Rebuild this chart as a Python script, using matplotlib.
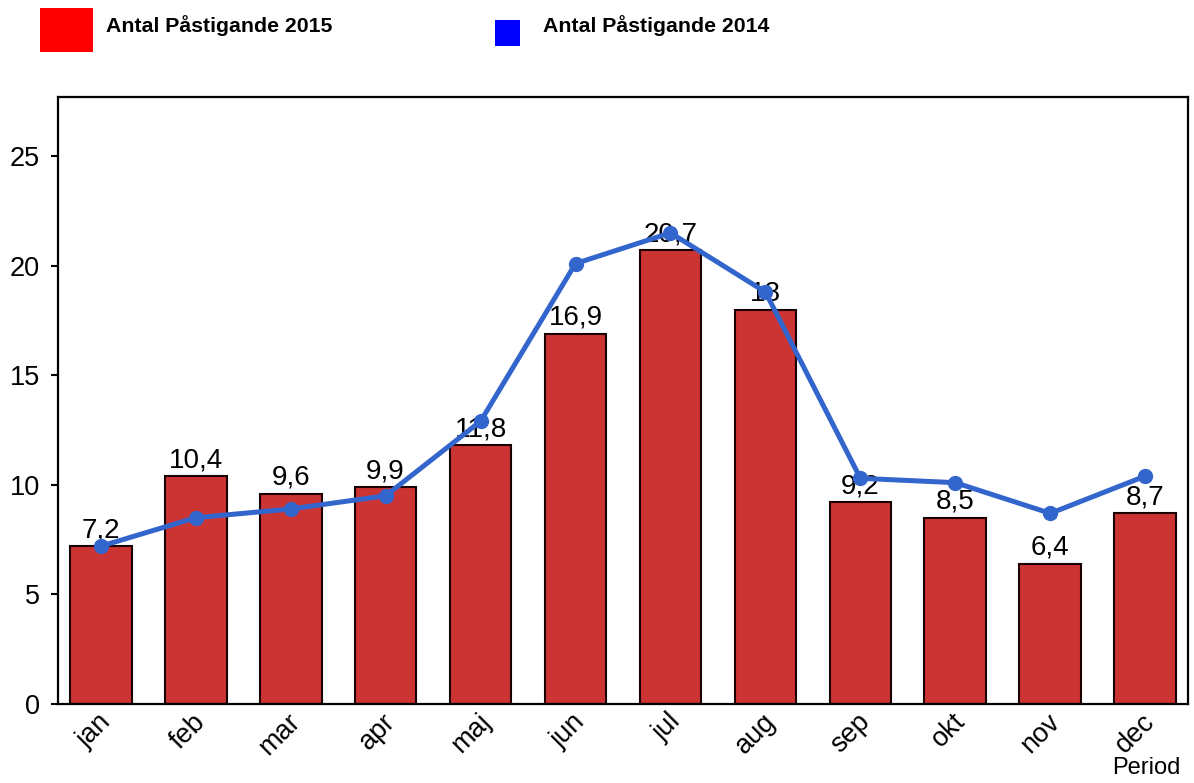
import matplotlib
matplotlib.use("Agg")
import matplotlib.pyplot as plt
from matplotlib.patches import Rectangle
from matplotlib.transforms import ScaledTranslation

plt.rcParams['font.family'] = ['Liberation Sans', 'DejaVu Sans']

months = ['jan', 'feb', 'mar', 'apr', 'maj', 'jun', 'jul', 'aug', 'sep', 'okt', 'nov', 'dec']
values_2015 = [7.2, 10.4, 9.6, 9.9, 11.8, 16.9, 20.7, 18.0, 9.2, 8.5, 6.4, 8.7]
labels_2015 = ['7,2', '10,4', '9,6', '9,9', '11,8', '16,9', '20,7', '18', '9,2', '8,5', '6,4', '8,7']
values_2014 = [7.2, 8.5, 8.9, 9.5, 12.9, 20.1, 21.5, 18.8, 10.3, 10.1, 8.7, 10.4]
yticks = [0, 5, 10, 15, 20, 25]

W, H = 1194, 783
fig = plt.figure(figsize=(W / 100, H / 100), dpi=100)
ax = fig.add_axes([58 / W, 1 - 704 / H, (1188 - 58) / W, (704 - 97) / H])

x = list(range(len(months)))
ax.bar(x, values_2015, width=0.65, color='#CC3333', edgecolor='#1a0000', linewidth=1.5, zorder=2)
for xi, v, lab in zip(x, values_2015, labels_2015):
    ax.annotate(lab, (xi, v), xytext=(0, 2), textcoords='offset points',
                ha='center', va='bottom', fontsize=20, color='black', zorder=3)
ax.plot(x, values_2014, color='#3366CC', linewidth=3.6, marker='o', markersize=10, zorder=4)

ax.set_xlim(-0.45, 11.45)
ax.set_ylim(0, 27.7)
ax.set_yticks(yticks)
ax.set_yticklabels([str(t) for t in yticks], fontsize=19.5)
ax.set_xticks(x)
ax.set_xticklabels(months, fontsize=19.5, rotation=45, ha='right', va='center', rotation_mode='anchor')
ax.tick_params(axis='x', length=0, pad=10)
ax.tick_params(axis='y', length=5, width=1.5, pad=8)
offset = ScaledTranslation(6 / 100, 0, fig.dpi_scale_trans)
for lbl in ax.get_xticklabels():
    lbl.set_transform(lbl.get_transform() + offset)
for s in ax.spines.values():
    s.set_linewidth(1.6)
    s.set_color('black')

fig.text(1180 / W, 1 - 768 / H, 'Period', fontsize=17, ha='right', va='center')

# legend
fig.patches.append(Rectangle((40 / W, 1 - 52 / H), 53 / W, 44 / H, transform=fig.transFigure,
                             facecolor='#FF0000', edgecolor='none'))
fig.text(106 / W, 1 - 26 / H, 'Antal Påstigande 2015', fontsize=15.3, fontweight='bold',
         ha='left', va='center')
fig.patches.append(Rectangle((495 / W, 1 - 46 / H), 25 / W, 26 / H, transform=fig.transFigure,
                             facecolor='#0000FF', edgecolor='none'))
fig.text(543 / W, 1 - 26 / H, 'Antal Påstigande 2014', fontsize=15.3, fontweight='bold',
         ha='left', va='center')

fig.savefig('out.png', dpi=100)
